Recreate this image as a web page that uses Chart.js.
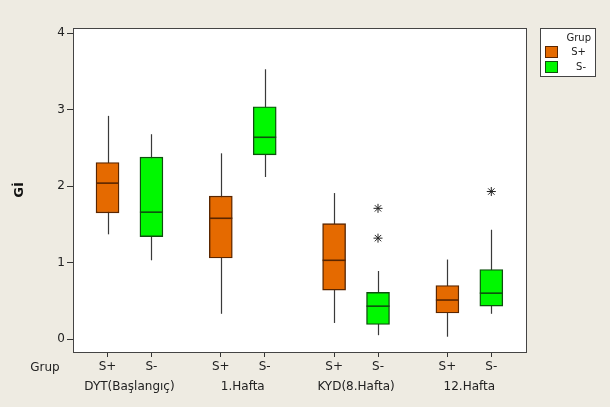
<!DOCTYPE html>
<html>
<head>
<meta charset="utf-8">
<script src="https://cdn.jsdelivr.net/npm/chart.js@4"></script>
<style>
  html, body { margin: 0; padding: 0; background: #EEEBE2; }
  #wrap { width: 610px; height: 407px; }
</style>
</head>
<body>
<div id="wrap"><canvas id="kutu"></canvas></div>
<script>
const groups = ['DYT(Başlangıç)', '1.Hafta', 'KYD(8.Hafta)', '12.Hafta'];
const subLabels = ['S+', 'S-'];
const yTicks = [0, 1, 2, 3, 4];

// S+ series
const spLow = [1.37, 0.33, 0.21, 0.03];
const spQ1 = [1.65, 1.06, 0.64, 0.34];
const spMed = [2.04, 1.58, 1.03, 0.51];
const spQ3 = [2.31, 1.87, 1.51, 0.70];
const spHigh = [2.92, 2.43, 1.91, 1.04];
const spOut = [[], [], [], []];

// S- series
const smLow = [1.03, 2.12, 0.05, 0.33];
const smQ1 = [1.34, 2.41, 0.19, 0.43];
const smMed = [1.66, 2.64, 0.43, 0.60];
const smQ3 = [2.38, 3.04, 0.61, 0.91];
const smHigh = [2.68, 3.53, 0.89, 1.43];
const smOut = [[], [], [1.71, 1.32], [1.93]];

const groupStep = 2.58;
function slot(g, s) {
  return g * groupStep + s;
}

const series = [
  { name: 'S+', low: spLow, q1: spQ1, med: spMed, q3: spQ3, high: spHigh, out: spOut,
    fill: '#E56A00', line: '#5A2600' },
  { name: 'S-', low: smLow, q1: smQ1, med: smMed, q3: smQ3, high: smHigh, out: smOut,
    fill: '#00F800', line: '#0E4F0E' },
];

const boxSets = series.map((s, si) => ({
  type: 'bar',
  label: s.name,
  data: groups.map((g, gi) => ({ x: slot(gi, si), y: [s.q1[gi], s.q3[gi]] })),
  backgroundColor: s.fill,
  borderColor: s.line,
  borderWidth: 1.4,
  borderSkipped: false,
  barThickness: 23,
  grouped: false,
  order: 2,
}));

const outPoints = [];
series.forEach((s, si) => {
  s.out.forEach((vals, gi) => {
    vals.forEach(v => outPoints.push({ x: slot(gi, si), y: v }));
  });
});

const outSet = {
  type: 'scatter',
  label: 'out',
  data: outPoints,
  pointStyle: 'star',
  radius: 4.5,
  borderColor: '#222',
  borderWidth: 1,
  backgroundColor: '#222',
  order: 1,
};

const tickPos = [];
const tickText = [];
groups.forEach((g, gi) => {
  subLabels.forEach((l, si) => {
    tickPos.push(slot(gi, si));
    tickText.push(l);
  });
});
const groupPos = groups.map((g, gi) => slot(gi, 0.5));

const font = { family: 'DejaVu Sans', size: 12 };

const boxPlot = {
  id: 'boxPlot',
  beforeDraw(chart) {
    const { ctx, chartArea } = chart;
    ctx.save();
    ctx.fillStyle = '#EEEBE2';
    ctx.fillRect(0, 0, chart.width, chart.height);
    ctx.fillStyle = '#FFFFFF';
    ctx.fillRect(chartArea.left, chartArea.top, chartArea.right - chartArea.left, chartArea.bottom - chartArea.top);
    ctx.restore();
  },
  beforeDatasetsDraw(chart) {
    const { ctx, scales } = chart;
    ctx.save();
    ctx.strokeStyle = '#3a3a3a';
    ctx.lineWidth = 1.2;
    series.forEach((s, si) => {
      groups.forEach((g, gi) => {
        const x = Math.round(scales.x.getPixelForValue(slot(gi, si))) + 0.5;
        ctx.beginPath();
        ctx.moveTo(x, scales.y.getPixelForValue(s.low[gi]));
        ctx.lineTo(x, scales.y.getPixelForValue(s.high[gi]));
        ctx.stroke();
      });
    });
    ctx.restore();
  },
  afterDatasetsDraw(chart) {
    const { ctx, scales, chartArea } = chart;
    ctx.save();
    ctx.lineWidth = 1.6;
    series.forEach((s, si) => {
      const meta = chart.getDatasetMeta(si);
      groups.forEach((g, gi) => {
        const bar = meta.data[gi];
        const half = bar.width / 2;
        const y = scales.y.getPixelForValue(s.med[gi]);
        ctx.strokeStyle = s.line;
        ctx.beginPath();
        ctx.moveTo(bar.x - half, y);
        ctx.lineTo(bar.x + half, y);
        ctx.stroke();
      });
    });
    // frame
    ctx.strokeStyle = '#444';
    ctx.lineWidth = 1;
    ctx.strokeRect(Math.round(chartArea.left) + 0.5, Math.round(chartArea.top) + 0.5,
      Math.round(chartArea.right - chartArea.left), Math.round(chartArea.bottom - chartArea.top));

    // "Grup" row label
    ctx.fillStyle = '#222';
    ctx.font = '12px "DejaVu Sans"';
    ctx.textAlign = 'center';
    ctx.textBaseline = 'middle';
    ctx.fillText('Grup', 45, 368);

    // legend box
    const lx = 540, ly = 28, lw = 55, lh = 48;
    ctx.fillStyle = '#FFFFFF';
    ctx.fillRect(lx, ly, lw, lh);
    ctx.strokeStyle = '#444';
    ctx.strokeRect(lx + 0.5, ly + 0.5, lw, lh);
    ctx.fillStyle = '#222';
    ctx.font = '10px "DejaVu Sans"';
    ctx.textAlign = 'right';
    ctx.fillText('Grup', lx + lw - 4, ly + 10);
    series.forEach((s, si) => {
      const by = ly + 18 + si * 15;
      ctx.fillStyle = s.fill;
      ctx.fillRect(lx + 5, by, 12, 11);
      ctx.strokeStyle = s.line;
      ctx.strokeRect(lx + 5.5, by + 0.5, 12, 11);
      ctx.fillStyle = '#222';
      ctx.fillText(s.name, lx + lw - 9, by + 6);
    });
    ctx.restore();
  },
};

new Chart(document.getElementById('kutu'), {
  data: { datasets: [...boxSets, outSet] },
  options: {
    responsive: true,
    maintainAspectRatio: false,
    animation: false,
    layout: { padding: { left: 0, right: 84, top: 28, bottom: 0 } },
    plugins: {
      legend: { display: false },
      tooltip: { enabled: false },
    },
    scales: {
      x: {
        type: 'linear',
        position: 'bottom',
        weight: 0,
        offset: false,
        min: -0.786,
        max: 9.53,
        afterBuildTicks: scale => { scale.ticks = tickPos.map(v => ({ value: v })); },
        afterFit: scale => { scale.height = 25; },
        ticks: {
          autoSkip: false,
          maxRotation: 0,
          padding: 3,
          color: '#222',
          font: font,
          callback: (v, i) => tickText[i],
        },
        grid: { drawOnChartArea: false, offset: false, tickLength: 5, color: '#333' },
        border: { display: false },
      },
      x2: {
        type: 'linear',
        position: 'bottom',
        weight: 1,
        offset: false,
        min: -0.786,
        max: 9.53,
        afterBuildTicks: scale => { scale.ticks = groupPos.map(v => ({ value: v })); },
        afterFit: scale => { scale.height = 30; },
        ticks: {
          autoSkip: false,
          maxRotation: 0,
          padding: 3,
          color: '#222',
          font: font,
          callback: (v, i) => groups[i],
        },
        grid: { display: false, drawTicks: false, offset: false },
        border: { display: false },
      },
      y: {
        type: 'linear',
        min: -0.17,
        max: 4.07,
        afterBuildTicks: scale => { scale.ticks = yTicks.map(v => ({ value: v })); },
        afterFit: scale => { scale.width = 73; },
        ticks: { padding: 2, color: '#222', font: font },
        grid: { drawOnChartArea: false, tickLength: 6, color: '#333' },
        border: { display: false },
        title: {
          display: true,
          text: 'Gİ',
          color: '#111',
          font: { family: 'DejaVu Sans', size: 13, weight: 'bold' },
          padding: { top: 12, bottom: 0 },
        },
      },
    },
  },
  plugins: [boxPlot],
});
</script>
</body>
</html>
